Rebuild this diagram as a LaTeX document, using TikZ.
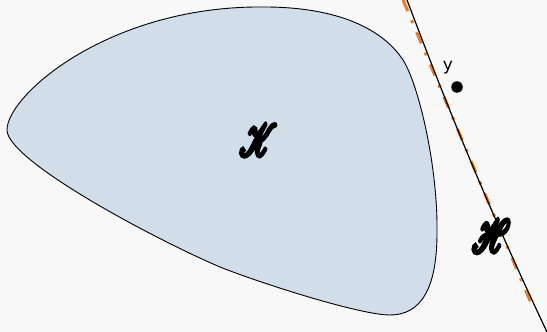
\documentclass[tikz,border=0pt]{standalone}
\usepackage{fontspec}
\usepackage{mathrsfs}
\newfontfamily\ysans{DejaVu Sans}
\definecolor{bgc}{RGB}{248,248,248}
\definecolor{blobc}{RGB}{209,222,233}
\definecolor{orng}{RGB}{232,125,30}
\newcommand{\fkbold}[1]{\special{pdf:code 2 Tr 1.0 w}#1\special{pdf:code 0 Tr}}
\tikzset{
  blob/.style={draw=black, line width=0.9pt, fill=blobc},
  hline/.style={draw=black, line width=1.2pt},
  oline/.style={draw=orng, line width=3pt, dash pattern=on 12pt off 10pt on 3pt off 10pt},
  biglabel/.style={inner sep=0pt},
  ptdot/.style={circle, fill=black, inner sep=0pt, minimum size=11.5pt},
  ylabel/.style={inner sep=0pt, font=\ysans\fontsize{17}{17}\selectfont}
}
\begin{document}
\begin{tikzpicture}[x=1pt,y=-1pt]
\fill[bgc] (0,0) rectangle (547,332);
\useasboundingbox (0,0) rectangle (547,332);
\path[blob] (7,130) .. controls (7,95) and (110,5) .. (265,7)
  .. controls (330,7) and (380,25) .. (403,60)
  .. controls (418,83) and (438,165) .. (437,233)
  .. controls (437,290) and (420,315) .. (390,315)
  .. controls (360,315) and (260,283) .. (220,267)
  .. controls (150,237) and (7,160) .. (7,130) -- cycle;
\coordinate (o1) at (403,0);
\coordinate (o2) at (534,310);
\draw[oline] (o1) -- (o2);
\coordinate (h1) at (407,0);
\coordinate (h2) at (547,332);
\path[hline] (h1) .. controls (445,100) and (480,190) .. (h2);
\node[biglabel] (K) at (258,140) {\resizebox{37pt}{31pt}{\fkbold{$\mathscr{K}$}}};
\node[biglabel] (H) at (491,236) {\resizebox{38pt}{32pt}{\fkbold{$\mathscr{H}$}}};
\node[ptdot] (y) at (457,87) {};
\node[ylabel] (ylab) at (448,68) {y};
\end{tikzpicture}
\end{document}
